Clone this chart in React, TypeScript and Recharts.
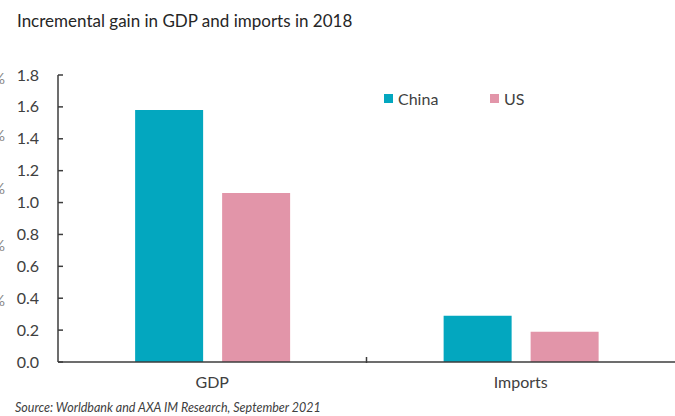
import React from "react";
import { Bar, BarChart, XAxis, YAxis } from "recharts";

const categories = ["GDP", "Imports"];
const chinaValues = [1.58, 0.29];
const usValues = [1.06, 0.19];
const yTicks = [0, 0.2, 0.4, 0.6, 0.8, 1.0, 1.2, 1.4, 1.6, 1.8];

const chartData = categories.map((c, i) => ({ cat: c, China: chinaValues[i], US: usValues[i] }));

const W = 675;
const H = 416;
const FONT = "Lato, 'Open Sans', sans-serif";
const AXIS = "#3c3c3c";
const TEXT = "#404040";
const TEAL = "#03A7BF";
const PINK = "#E295A9";
const X_H = 30;
const margin = { top: 75, right: 0, bottom: 54 - X_H, left: 0 };
const Y_W = 58;
const band = (W - margin.left - margin.right - Y_W) / categories.length;

function YTick(props: any) {
  const { x, y, payload } = props;
  return (
    <g>
      <line x1={x + 19} x2={x + 24} y1={y} y2={y} stroke={AXIS} strokeWidth={1.5} />
      <text x={x} y={y} dy="0.35em" textAnchor="end" fontSize={16} fill={TEXT} fontFamily={FONT}>
        {payload.value.toFixed(1)}
      </text>
    </g>
  );
}

function XTick(props: any) {
  const { x, y, payload, index } = props;
  return (
    <g>
      {index === 0 && (
        <line x1={x + band / 2} x2={x + band / 2} y1={y - 20} y2={y - 14} stroke={AXIS} strokeWidth={1.5} />
      )}
      <text x={x} y={y} dy="0.71em" textAnchor="middle" fontSize={16} fill={TEXT} fontFamily={FONT}>
        {payload.value}
      </text>
    </g>
  );
}

const legendItems = [
  { name: "China", color: TEAL, left: 384 },
  { name: "US", color: PINK, left: 490 },
];

export default function App() {
  return (
    <div style={{ position: "absolute", left: 0, top: 0, width: W, height: H, background: "#fff", overflow: "hidden" }}>
      <div style={{ position: "absolute", left: 17, top: 10, fontFamily: FONT, fontSize: 17, color: "#262626" }}>
        Incremental gain in GDP and imports in 2018
      </div>
      {[78, 135, 188, 245, 300].map((t) => (
        <div key={t} style={{ position: "absolute", left: -7, top: t - 9, fontFamily: FONT, fontSize: 15, color: "#888" }}>
          %
        </div>
      ))}
      <BarChart width={W} height={H} data={chartData} margin={margin} barCategoryGap="25%" barGap={19}>
        <YAxis
          width={Y_W}
          domain={[0, 1.8]}
          ticks={yTicks}
          interval={0}
          tick={<YTick />}
          tickLine={false}
          tickSize={0}
          tickMargin={19}
          axisLine={{ stroke: AXIS, strokeWidth: 1.5 }}
        />
        <XAxis
          dataKey="cat"
          height={X_H}
          tick={<XTick />}
          tickLine={false}
          tickSize={0}
          tickMargin={15}
          axisLine={{ stroke: AXIS, strokeWidth: 1.5 }}
        />
        <Bar dataKey="China" fill={TEAL} isAnimationActive={false} />
        <Bar dataKey="US" fill={PINK} isAnimationActive={false} />
      </BarChart>
      {legendItems.map((it) => (
        <div
          key={it.name}
          style={{ position: "absolute", left: it.left, top: 89, display: "flex", alignItems: "center", fontFamily: FONT, fontSize: 16, color: TEXT }}
        >
          <span style={{ width: 9, height: 9, background: it.color, marginRight: 5, display: "inline-block" }} />
          {it.name}
        </div>
      ))}
      <div style={{ position: "absolute", left: 15, top: 400, fontFamily: FONT, fontSize: 12.5, fontStyle: "italic", color: TEXT }}>
        Source: Worldbank and  AXA IM Research, September 2021
      </div>
    </div>
  );
}
